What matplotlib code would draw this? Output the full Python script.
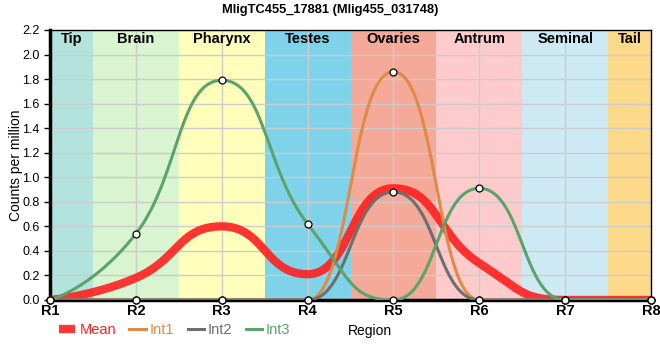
import numpy as np
import matplotlib
matplotlib.use('Agg')
from matplotlib import pyplot as plt

regions = ['R1', 'R2', 'R3', 'R4', 'R5', 'R6', 'R7', 'R8']
tissues = ['Tip', 'Brain', 'Pharynx', 'Testes', 'Ovaries', 'Antrum', 'Seminal', 'Tail']
tissue_colors = ['#b3e3dd', '#d8f5cf', '#ffffbb', '#7ed3ea', '#f4a999', '#fdcbcb', '#cdeaf4', '#fdd98a']

int1 = [0, 0, 0, 0, 1.86, 0, 0, 0]
int2 = [0, 0, 0, 0, 0.88, 0, 0, 0]
int3 = [0, 0.54, 1.79, 0.62, 0, 0.91, 0, 0]
mean = [0.0, 0.18, 0.60, 0.21, 0.91, 0.30, 0.0, 0.0]


def smooth(x, y, arm=0.5, n=60):
    # bezier spline, handles half a step long, flat at local extremes,
    # no handle on the two end points
    x = np.asarray(x, float)
    y = np.asarray(y, float)
    m = np.zeros_like(y)
    for i in range(1, len(y) - 1):
        lo, hi = min(y[i - 1], y[i + 1]), max(y[i - 1], y[i + 1])
        if lo < y[i] < hi:
            m[i] = (y[i + 1] - y[i - 1]) / (x[i + 1] - x[i - 1])
    t = np.linspace(0, 1, n)[:, None]
    xs, ys = [], []
    last = len(x) - 2
    for i in range(len(x) - 1):
        d = x[i + 1] - x[i]
        a0 = 0 if i == 0 else arm
        a1 = 0 if i == last else arm
        px = [x[i], x[i] + a0 * d, x[i + 1] - a1 * d, x[i + 1]]
        py = [y[i], y[i] + m[i] * a0 * d, y[i + 1] - m[i + 1] * a1 * d, y[i + 1]]
        b = [(1 - t)**3, 3 * t * (1 - t)**2, 3 * t**2 * (1 - t), t**3]
        xs.append(sum(bb * p for bb, p in zip(b, px)).ravel())
        ys.append(sum(bb * p for bb, p in zip(b, py)).ravel())
    return np.concatenate(xs), np.concatenate(ys)


x = np.arange(len(regions))

fig = plt.figure(figsize=(6.6, 3.6), dpi=100)
ax = fig.add_axes([0.0758, 0.1667, 0.9106, 0.75])

edges = [0, 0.5, 1.5, 2.5, 3.5, 4.5, 5.5, 6.5, 7]
for i, name in enumerate(tissues):
    ax.axvspan(edges[i], edges[i + 1], color=tissue_colors[i], lw=0, zorder=0)
    ax.text((edges[i] + edges[i + 1]) / 2, 2.13, name, ha='center', va='center',
            fontsize=10.5, fontweight='bold', family='Liberation Sans', zorder=5)

for yv in np.arange(0.2, 2.21, 0.2):
    ax.axhline(yv, color='#cccccc', lw=1, zorder=1)
for xv in x:
    ax.axvline(xv, color='#cccccc', lw=1, zorder=1)

series = [('Int1', int1, '#e08a48'), ('Int2', int2, '#6e6e6e'), ('Int3', int3, '#5aa36a')]
handles = []
xs, ys = smooth(x, mean)
h, = ax.plot(xs, ys, color='#ff2020', lw=6, alpha=0.9, zorder=3, label='Mean',
             solid_capstyle='butt')
handles.append(h)
for name, vals, col in series:
    xs, ys = smooth(x, vals)
    h, = ax.plot(xs, ys, color=col, lw=2.2, zorder=3, label=name)
    handles.append(h)
    ax.plot(x, vals, 'o', ms=5, mfc='white', mec='black', mew=0.9, zorder=6, clip_on=False)

ax.set_xlim(0, 7)
ax.set_ylim(0, 2.2)
ax.set_xticks(x)
ax.set_xticklabels(regions, fontsize=10.5, fontweight='bold', family='Liberation Sans')
ax.set_yticks(np.arange(0, 2.21, 0.2))
ax.set_yticklabels(['%.1f' % v for v in np.arange(0, 2.21, 0.2)], fontsize=9, family='Liberation Sans')
ax.tick_params(axis='x', length=0, pad=3)
ax.tick_params(axis='y', length=4, width=1)
for side in ['left', 'bottom']:
    ax.spines[side].set_linewidth(2.5)
for side in ['top', 'right']:
    ax.spines[side].set_linewidth(1)
ax.set_ylabel('Counts per million', fontsize=10, family='Liberation Sans')
ax.yaxis.set_label_coords(-0.045, 0.5)

fig.suptitle('MligTC455_17881 (Mlig455_031748)', x=0.5, y=0.99, fontsize=9.3,
             fontweight='bold', family='Liberation Sans')

leg = fig.legend(handles=handles, loc='center left', bbox_to_anchor=(0.07, 0.083), ncol=4,
                 frameon=False, handlelength=1.1, handletextpad=0.3,
                 columnspacing=0.9, prop={'family': 'Liberation Sans', 'size': 10.5})
for txt, hd in zip(leg.get_texts(), handles):
    txt.set_color(hd.get_color())
fig.text(0.56, 0.08, 'Region', ha='center', va='center', fontsize=10, family='Liberation Sans')

fig.savefig('out.png', dpi=100)
